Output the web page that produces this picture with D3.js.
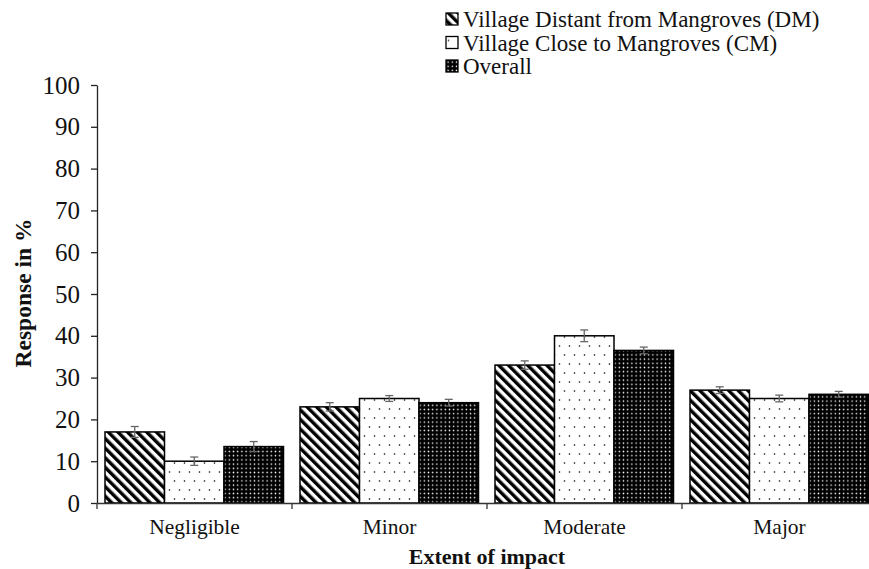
<!DOCTYPE html>
<html>
<head>
<meta charset="utf-8">
<script src="https://cdn.jsdelivr.net/npm/d3@7"></script>
<style>
  body { margin: 0; background: #fff; }
  text { font-family: "Liberation Serif", "Times New Roman", serif; fill: #111; }
</style>
</head>
<body>
<div id="chart"></div>
<script>
// categories and series
const categories = ["Negligible", "Minor", "Moderate", "Major"];
const seriesNames = ["Village Distant from Mangroves (DM)", "Village Close to Mangroves (CM)", "Overall"];
const seriesKeys = ["DM", "CM", "Overall"];

// values in %
const valuesDM = [17, 23, 33, 27];
const valuesCM = [10, 25, 40, 25];
const valuesOverall = [13.5, 24, 36.5, 26];

// error bars (+/-)
const errDM = [1.3, 1.0, 1.0, 0.8];
const errCM = [1.0, 0.7, 1.4, 0.8];
const errOverall = [1.2, 0.8, 0.8, 0.7];

const yTicks = [0, 10, 20, 30, 40, 50, 60, 70, 80, 90, 100];

const allValues = [valuesDM, valuesCM, valuesOverall];
const allErrors = [errDM, errCM, errOverall];

const width = 869, height = 569;
const margin = { top: 85, left: 97, bottom: 66 };
const plotBottom = height - margin.bottom;

const svg = d3.select("#chart").append("svg")
    .attr("width", width)
    .attr("height", height);

// patterns
const defs = svg.append("defs");

const pDM = defs.append("pattern")
    .attr("id", "pat-DM")
    .attr("patternUnits", "userSpaceOnUse")
    .attr("width", 6.8).attr("height", 6.8)
    .attr("patternTransform", "rotate(-45)");
pDM.append("rect").attr("width", 6.8).attr("height", 6.8).attr("fill", "#fff");
pDM.append("rect").attr("width", 3.4).attr("height", 6.8).attr("fill", "#000");

const pCM = defs.append("pattern")
    .attr("id", "pat-CM")
    .attr("patternUnits", "userSpaceOnUse")
    .attr("width", 10).attr("height", 18);
pCM.append("rect").attr("width", 10).attr("height", 18).attr("fill", "#fff");
pCM.append("circle").attr("cx", 2.5).attr("cy", 4).attr("r", 0.8).attr("fill", "#000");
pCM.append("circle").attr("cx", 7.5).attr("cy", 13).attr("r", 0.8).attr("fill", "#000");

const pOV = defs.append("pattern")
    .attr("id", "pat-Overall")
    .attr("patternUnits", "userSpaceOnUse")
    .attr("width", 4.2).attr("height", 4.2);
pOV.append("rect").attr("width", 4.2).attr("height", 4.2).attr("fill", "#000");
pOV.append("circle").attr("cx", 2.1).attr("cy", 2.1).attr("r", 0.75).attr("fill", "#fff");

// scales
const x0 = d3.scaleBand()
    .domain(categories)
    .range([margin.left, margin.left + 4 * 195])
    .paddingInner(0).paddingOuter(0);

const x1 = d3.scaleBand()
    .domain(seriesKeys)
    .range([8, 195 - 8.5])
    .padding(0);

const y = d3.scaleLinear()
    .domain([0, 100])
    .range([plotBottom, margin.top]);

// bars
const groups = svg.append("g").selectAll("g")
    .data(categories)
    .join("g")
    .attr("transform", d => `translate(${x0(d)},0)`);

groups.selectAll("rect")
    .data((c, i) => seriesKeys.map((k, s) => ({ key: k, value: allValues[s][i], err: allErrors[s][i] })))
    .join("rect")
    .attr("x", d => x1(d.key))
    .attr("y", d => y(d.value))
    .attr("width", x1.bandwidth())
    .attr("height", d => y(0) - y(d.value))
    .attr("fill", d => `url(#pat-${d.key})`)
    .attr("stroke", "#000")
    .attr("stroke-width", 1.5);

// error bars
const eb = groups.selectAll("g.err")
    .data((c, i) => seriesKeys.map((k, s) => ({ key: k, value: allValues[s][i], err: allErrors[s][i] })))
    .join("g")
    .attr("class", "err")
    .attr("stroke", "#666")
    .attr("stroke-width", 1.3);

eb.append("line")
    .attr("x1", d => x1(d.key) + x1.bandwidth() / 2)
    .attr("x2", d => x1(d.key) + x1.bandwidth() / 2)
    .attr("y1", d => y(d.value + d.err))
    .attr("y2", d => y(d.value - d.err));
eb.append("line")
    .attr("x1", d => x1(d.key) + x1.bandwidth() / 2 - 4)
    .attr("x2", d => x1(d.key) + x1.bandwidth() / 2 + 4)
    .attr("y1", d => y(d.value + d.err))
    .attr("y2", d => y(d.value + d.err));
eb.append("line")
    .attr("x1", d => x1(d.key) + x1.bandwidth() / 2 - 4)
    .attr("x2", d => x1(d.key) + x1.bandwidth() / 2 + 4)
    .attr("y1", d => y(d.value - d.err))
    .attr("y2", d => y(d.value - d.err));

// y axis
const yAxis = svg.append("g")
    .attr("transform", `translate(${margin.left},0)`)
    .call(d3.axisLeft(y).tickValues(yTicks).tickSize(6).tickPadding(11).tickSizeOuter(0));
yAxis.select(".domain").attr("stroke", "#222").attr("stroke-width", 1.3);
yAxis.selectAll(".tick line").attr("stroke", "#222").attr("stroke-width", 1.3);
yAxis.selectAll(".tick text")
    .style("font-family", "Liberation Serif, serif")
    .style("font-size", "25px")
    .attr("fill", "#111");

// x axis
const xAxis = svg.append("g")
    .attr("transform", `translate(0,${plotBottom})`)
    .call(d3.axisBottom(x0).tickSize(0).tickPadding(16));
xAxis.select(".domain").attr("stroke", "#333").attr("stroke-width", 1.5);
xAxis.selectAll(".tick text")
    .style("font-family", "Liberation Serif, serif")
    .style("font-size", "21.5px")
    .attr("fill", "#111");

// category boundary ticks
svg.append("g").selectAll("line")
    .data(categories)
    .join("line")
    .attr("x1", d => x0(d))
    .attr("x2", d => x0(d))
    .attr("y1", plotBottom)
    .attr("y2", plotBottom + 6)
    .attr("stroke", "#333")
    .attr("stroke-width", 1.3);

// axis titles
svg.append("text")
    .attr("x", x0("Moderate"))
    .attr("y", 564)
    .attr("text-anchor", "middle")
    .style("font-size", "22px")
    .style("font-weight", "bold")
    .text("Extent of impact");

svg.append("text")
    .attr("transform", `translate(31,293) rotate(-90)`)
    .attr("text-anchor", "middle")
    .style("font-size", "23.5px")
    .style("font-weight", "bold")
    .text("Response in %");

// legend
const legend = svg.append("g")
    .attr("transform", "translate(446,13)");
const li = legend.selectAll("g")
    .data(seriesKeys)
    .join("g")
    .attr("transform", (d, i) => `translate(0,${i * 23.5})`);
li.append("rect")
    .attr("width", 12).attr("height", 12)
    .attr("fill", d => `url(#pat-${d})`)
    .attr("stroke", "#000")
    .attr("stroke-width", 1.3);
li.append("text")
    .attr("x", 17)
    .attr("y", 14)
    .style("font-size", "23px")
    .text((d, i) => seriesNames[i]);
</script>
</body>
</html>
